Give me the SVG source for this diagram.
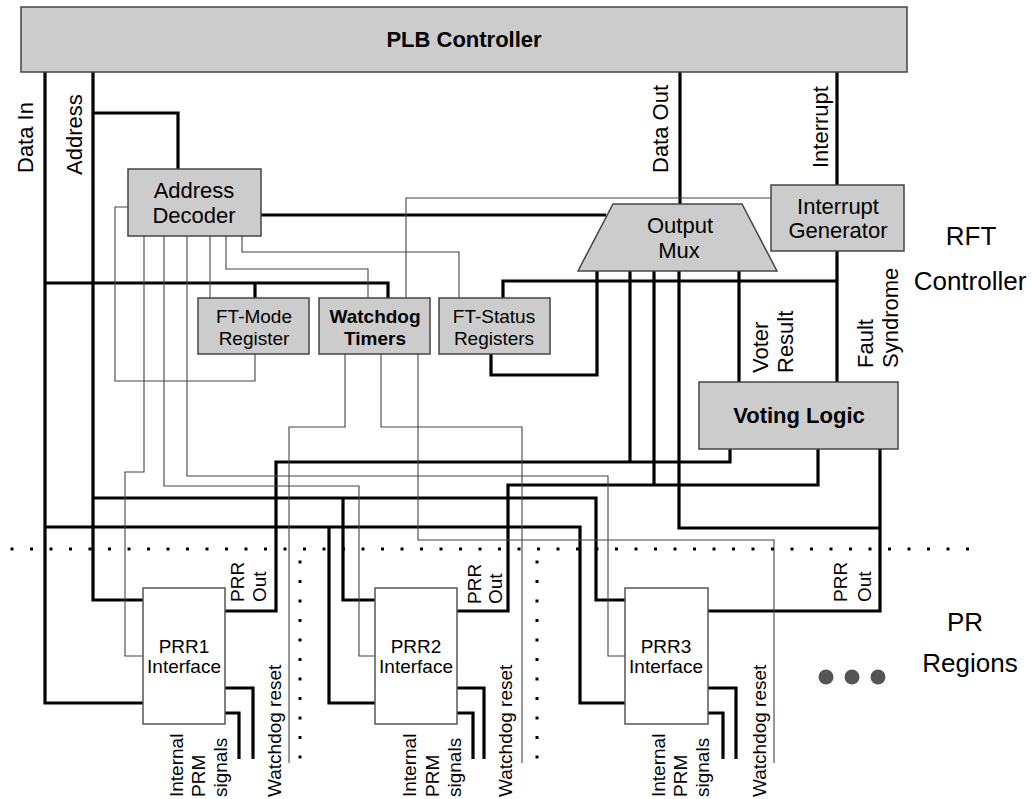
<svg xmlns="http://www.w3.org/2000/svg" width="1033" height="799" viewBox="0 0 1033 799">
<style>
text{font-family:"Liberation Sans",Arial,sans-serif;fill:#000}
.box{fill:#cccccc;stroke:#444;stroke-width:1.5}
.prr{fill:#fff;stroke:#555;stroke-width:1.5}
.thick{fill:none;stroke:#000;stroke-width:3.2}
.thin{fill:none;stroke:#444;stroke-width:1.1}
.dots{fill:none;stroke:#000;stroke-width:3;stroke-dasharray:3 16.5}
.t22{font-size:22px}
.t19{font-size:19px}
.t26{font-size:26px}
.b{font-weight:bold}
.m{text-anchor:middle}
</style>
<rect width="1033" height="799" fill="#fff"/>
<g id="connectors">
<g class="thick">
<path d="M45,72 V703 H143"/>
<path d="M45,283 H388 V298"/>
<path d="M255,283 V298"/>
<path d="M93,72 V600 H143"/>
<path d="M93,113 H178 V169"/>
<path d="M93,498 H596 V600 H625"/>
<path d="M343,498 V600 H375"/>
<path d="M45,527 H580 V703 H625"/>
<path d="M329,527 V703 H375"/>
<path d="M261,215 H606"/>
<path d="M680,72 V204"/>
<path d="M837,72 V185"/>
<path d="M837,251 V382"/>
<path d="M503,298 V281 H837"/>
<path d="M491,354 V375 H597 V271"/>
<path d="M630,271 V462"/>
<path d="M225,611 H276 V462 H730 V449"/>
<path d="M654,271 V485"/>
<path d="M457,611 H508 V485 H818 V449"/>
<path d="M679,271 V528 H880"/>
<path d="M708,611 H880 V449"/>
<path d="M739,271 V382"/>
<path d="M225,688 H253 V759"/>
<path d="M225,713 H239 V759"/>
<path d="M457,688 H484 V759"/>
<path d="M457,713 H473 V759"/>
<path d="M708,688 H736 V759"/>
<path d="M708,713 H723 V759"/>
</g>
<g class="thin">
<path d="M128,207 H115 V381 H255 V354"/>
<path d="M144,236 V472 H125 V656 H143"/>
<path d="M164,236 V486 H359 V656 H375"/>
<path d="M187,236 V476 H608 V656 H625"/>
<path d="M210,236 V298"/>
<path d="M226,236 V269 H368 V298"/>
<path d="M242,236 V252 H459 V298"/>
<path d="M406,298 V198 H771"/>
<path d="M345,354 V427 H289 V763"/>
<path d="M381,354 V427 H522 V763"/>
<path d="M418,354 V540 H774 V763"/>
</g>
<g class="dots">
<path d="M10.5,549 H975"/>
<path d="M300,560.5 V760"/>
<path d="M537,560.5 V760"/>
</g>
</g>
<g id="labels" class="t22">
<text transform="translate(33,173) rotate(-90)">Data In</text>
<text transform="translate(82,175) rotate(-90)">Address</text>
<text transform="translate(668,173) rotate(-90)">Data Out</text>
<text transform="translate(828,168) rotate(-90)">Interrupt</text>
<text transform="translate(768,373) rotate(-90)">Voter</text>
<text transform="translate(793,373) rotate(-90)">Result</text>
<text transform="translate(873,368) rotate(-90)">Fault</text>
<text transform="translate(898,368) rotate(-90)">Syndrome</text>
</g>
<g id="prr-labels" class="t19">
<text transform="translate(244,602) rotate(-90)">PRR</text>
<text transform="translate(266,602) rotate(-90)">Out</text>
<text transform="translate(481,604) rotate(-90)">PRR</text>
<text transform="translate(502,604) rotate(-90)">Out</text>
<text transform="translate(847,602) rotate(-90)">PRR</text>
<text transform="translate(871,602) rotate(-90)">Out</text>
<text transform="translate(183,797) rotate(-90)">Internal</text>
<text transform="translate(205,797) rotate(-90)">PRM</text>
<text transform="translate(227,797) rotate(-90)">signals</text>
<text transform="translate(416,797) rotate(-90)">Internal</text>
<text transform="translate(439,797) rotate(-90)">PRM</text>
<text transform="translate(461,797) rotate(-90)">signals</text>
<text transform="translate(665,797) rotate(-90)">Internal</text>
<text transform="translate(687,797) rotate(-90)">PRM</text>
<text transform="translate(709,797) rotate(-90)">signals</text>
<text transform="translate(281,797) rotate(-90)">Watchdog reset</text>
<text transform="translate(512,797) rotate(-90)">Watchdog reset</text>
<text transform="translate(766,797) rotate(-90)">Watchdog reset</text>
</g>
<g id="plb"><rect class="box" x="21" y="7" width="886" height="65"/><text class="t22 b m" x="464" y="47">PLB Controller</text></g>
<g id="decoder"><rect class="box" x="128" y="169" width="133" height="67"/><text class="t22 m" x="194" y="198">Address</text><text class="t22 m" x="194" y="223">Decoder</text></g>
<g id="mux"><polygon class="box" points="613,204 742,204 777,271 578,271"/><text class="t22 m" x="680" y="233">Output</text><text class="t22 m" x="679" y="258">Mux</text></g>
<g id="intgen"><rect class="box" x="771" y="185" width="133" height="66"/><text class="t22 m" x="838" y="214">Interrupt</text><text class="t22 m" x="838" y="238">Generator</text></g>
<g id="ftmode"><rect class="box" x="198" y="298" width="111" height="56"/><text class="t19 m" x="254" y="323">FT-Mode</text><text class="t19 m" x="254" y="345">Register</text></g>
<g id="watchdog"><rect class="box" x="319" y="298" width="111" height="56"/><text class="t19 b m" x="375" y="323">Watchdog</text><text class="t19 b m" x="375" y="345">Timers</text></g>
<g id="ftstatus"><rect class="box" x="439" y="298" width="111" height="56"/><text class="t19 m" x="494" y="323">FT-Status</text><text class="t19 m" x="494" y="345">Registers</text></g>
<g id="voting"><rect class="box" x="699" y="382" width="199" height="67"/><text class="t22 b m" x="799" y="423">Voting Logic</text></g>
<g id="prr1"><rect class="prr" x="143" y="588" width="82" height="136"/><text class="t19 m" x="184" y="653">PRR1</text><text class="t19 m" x="184" y="673">Interface</text></g>
<g id="prr2"><rect class="prr" x="375" y="588" width="82" height="136"/><text class="t19 m" x="416" y="653">PRR2</text><text class="t19 m" x="416" y="673">Interface</text></g>
<g id="prr3"><rect class="prr" x="625" y="588" width="83" height="136"/><text class="t19 m" x="666" y="653">PRR3</text><text class="t19 m" x="666" y="673">Interface</text></g>
<g id="ellipsis" fill="#555"><circle cx="826" cy="677" r="7.5"/><circle cx="852" cy="677" r="7.5"/><circle cx="878" cy="677" r="7.5"/></g>
<g id="regions" class="t26 m">
<text x="971" y="245">RFT</text>
<text x="970" y="290">Controller</text>
<text x="965" y="631">PR</text>
<text x="970" y="672">Regions</text>
</g>
</svg>
